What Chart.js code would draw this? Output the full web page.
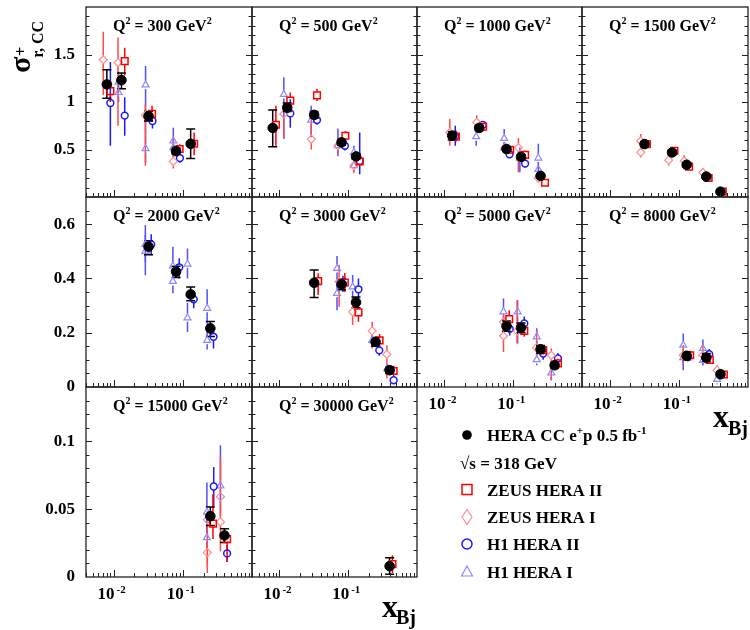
<!DOCTYPE html>
<html><head><meta charset="utf-8">
<script src="https://cdn.jsdelivr.net/npm/chart.js@4.4.1/dist/chart.umd.min.js"></script>
<style>
html,body{margin:0;padding:0;background:#fff;}
#wrap{position:relative;width:750px;height:630px;overflow:hidden;background:#fff;}
#wrap canvas{position:absolute;}
</style></head>
<body><div id="wrap"></div>
<script>
// ---------------- DATA ----------------
// each point: [x, y, yLow, yHigh]
const Q2_VALUES = ['300','500','1000','1500','2000','3000','5000','8000','15000','30000'];
const Y_TICKS_ROW1 = [0.5, 1, 1.5];
const Y_TICKS_ROW2 = [0, 0.2, 0.4, 0.6];
const Y_TICKS_ROW3 = [0, 0.05, 0.1];
const Y_MAX_ROWS = [2, 0.7, 0.14];
const Y_MINOR_STEP_ROWS = [0.1, 0.05, 0.01];
const X_MIN = 0.004, X_MAX = 1;
const X_TICK_VALUES = [0.01, 0.1];
const X_TICK_EXPONENTS = ['-2', '-1'];

const HERA_300  = [[0.008,1.185,1.04,1.34],[0.013,1.23,1.14,1.305],[0.032,0.85,0.80,0.90],[0.08,0.483,0.45,0.515],[0.13,0.56,0.405,0.716]];
const ZEUS2_300 = [[0.0090,1.115,1.0,1.23],[0.0145,1.43,1.28,1.57],[0.036,0.875,0.79,0.96],[0.090,0.505,0.455,0.555],[0.146,0.56,0.44,0.68]];
const ZEUS1_300 = [[0.0071,1.445,1.07,1.74],[0.0116,1.415,0.75,1.68],[0.0288,0.86,0.33,0.98],[0.073,0.375,0.30,0.62]];
const H12_300   = [[0.0090,0.99,0.54,1.42],[0.0145,0.857,0.645,1.05],[0.0365,0.80,0.72,0.88],[0.091,0.41,0.36,0.46]];
const H11_300   = [[0.0118,1.10,1.0,1.2],[0.0118,1.21,1.1,1.32],[0.029,1.18,0.87,1.38],[0.029,0.51,0.36,0.85],[0.073,0.59,0.45,0.73],[0.073,0.52,0.42,0.62]];

const HERA_500  = [[0.008,0.727,0.53,0.917],[0.013,0.94,0.90,0.99],[0.032,0.864,0.83,0.90],[0.08,0.575,0.545,0.605],[0.13,0.427,0.40,0.455]];
const ZEUS2_500 = [[0.0089,0.76,0.54,0.96],[0.0144,1.015,0.94,1.10],[0.0352,1.07,1.01,1.14],[0.091,0.645,0.595,0.695],[0.147,0.374,0.324,0.424]];
const ZEUS1_500 = [[0.0116,0.875,0.62,0.99],[0.0291,0.61,0.50,0.84],[0.071,0.54,0.46,0.62],[0.121,0.33,0.25,0.41]];
const H12_500   = [[0.0144,0.88,0.73,1.03],[0.0352,0.81,0.76,0.86],[0.0895,0.54,0.49,0.59],[0.147,0.38,0.24,0.68]];
const H11_500   = [[0.0116,1.08,0.61,1.26],[0.029,0.81,0.63,0.96],[0.071,0.54,0.43,0.72],[0.121,0.47,0.40,0.54],[0.121,0.33,0.27,0.40]];

const HERA_1000  = [[0.013,0.645,0.60,0.69],[0.032,0.727,0.70,0.755],[0.08,0.505,0.48,0.53],[0.13,0.423,0.40,0.446],[0.25,0.222,0.20,0.244]];
const ZEUS2_1000 = [[0.0147,0.635,0.585,0.685],[0.0366,0.74,0.70,0.78],[0.0903,0.497,0.46,0.535],[0.149,0.444,0.40,0.49],[0.29,0.15,0.12,0.18]];
const ZEUS1_1000 = [[0.012,0.68,0.54,0.82],[0.0295,0.786,0.69,0.86],[0.076,0.52,0.47,0.57],[0.119,0.52,0.26,0.62],[0.232,0.198,0.15,0.25]];
const H12_1000   = [[0.0144,0.64,0.54,0.75],[0.0362,0.76,0.72,0.80],[0.0885,0.45,0.41,0.49],[0.149,0.352,0.31,0.40]];
const H11_1000   = [[0.029,0.635,0.54,0.75],[0.074,0.617,0.487,0.716],[0.074,0.52,0.46,0.58],[0.125,0.41,0.26,0.52],[0.232,0.41,0.24,0.56],[0.232,0.29,0.24,0.34]];

const HERA_1500  = [[0.032,0.557,0.53,0.585],[0.08,0.469,0.445,0.493],[0.13,0.339,0.315,0.363],[0.25,0.215,0.195,0.235],[0.4,0.056,0.045,0.067]];
const ZEUS2_1500 = [[0.0346,0.557,0.52,0.59],[0.0865,0.487,0.455,0.52],[0.141,0.32,0.29,0.35],[0.27,0.20,0.175,0.225],[0.432,0.056,0.045,0.067]];
const ZEUS1_1500 = [[0.0282,0.59,0.50,0.663],[0.0282,0.47,0.416,0.52],[0.0715,0.388,0.33,0.48],[0.12,0.38,0.30,0.44],[0.223,0.26,0.22,0.30]];

const HERA_2000 = [[0.032,0.517,0.487,0.539],[0.08,0.425,0.403,0.445],[0.13,0.341,0.318,0.368],[0.25,0.216,0.186,0.241]];
const H12_2000  = [[0.035,0.525,0.485,0.563],[0.0889,0.441,0.40,0.474],[0.144,0.323,0.29,0.355],[0.278,0.185,0.142,0.216]];
const H11_2000  = [[0.0288,0.525,0.46,0.597],[0.0288,0.50,0.412,0.56],[0.072,0.446,0.40,0.517],[0.072,0.389,0.345,0.43],[0.117,0.453,0.40,0.51],[0.117,0.255,0.203,0.31],[0.225,0.29,0.22,0.36],[0.225,0.172,0.138,0.21]];

const HERA_3000  = [[0.032,0.384,0.33,0.431],[0.08,0.378,0.358,0.398],[0.13,0.312,0.292,0.332],[0.25,0.166,0.15,0.182],[0.4,0.062,0.05,0.074]];
const ZEUS2_3000 = [[0.0366,0.39,0.339,0.419],[0.0893,0.385,0.35,0.42],[0.141,0.275,0.24,0.31],[0.286,0.172,0.15,0.195],[0.458,0.059,0.04,0.078]];
const ZEUS1_3000 = [[0.0738,0.388,0.296,0.45],[0.116,0.277,0.228,0.332],[0.223,0.207,0.142,0.24],[0.365,0.12,0.031,0.154]];
const H12_3000   = [[0.084,0.38,0.35,0.41],[0.141,0.36,0.32,0.40],[0.283,0.135,0.115,0.155],[0.458,0.025,0.01,0.04]];
const H11_3000   = [[0.0688,0.437,0.39,0.483],[0.0688,0.345,0.283,0.39],[0.116,0.369,0.32,0.413],[0.223,0.172,0.15,0.195],[0.37,0.068,0.05,0.085]];

const HERA_5000  = [[0.08,0.224,0.205,0.243],[0.13,0.218,0.20,0.236],[0.25,0.139,0.125,0.153],[0.4,0.08,0.07,0.09]];
const ZEUS2_5000 = [[0.0875,0.25,0.22,0.283],[0.145,0.207,0.185,0.23],[0.273,0.136,0.12,0.152],[0.447,0.087,0.07,0.104]];
const ZEUS1_5000 = [[0.0723,0.188,0.129,0.258],[0.0723,0.24,0.21,0.27],[0.114,0.206,0.16,0.32],[0.219,0.145,0.11,0.209],[0.358,0.117,0.025,0.142]];
const H12_5000   = [[0.089,0.214,0.19,0.24],[0.145,0.234,0.21,0.26],[0.273,0.123,0.10,0.145],[0.447,0.105,0.085,0.125]];
const H11_5000   = [[0.0723,0.277,0.21,0.326],[0.116,0.277,0.16,0.32],[0.22,0.185,0.15,0.216],[0.22,0.101,0.08,0.13],[0.358,0.052,0.025,0.074]];

const HERA_8000  = [[0.13,0.115,0.10,0.13],[0.25,0.108,0.093,0.123],[0.4,0.047,0.04,0.054]];
const ZEUS2_8000 = [[0.146,0.117,0.10,0.134],[0.281,0.10,0.085,0.115],[0.448,0.046,0.04,0.052]];
const ZEUS1_8000 = [[0.116,0.117,0.085,0.155],[0.223,0.117,0.09,0.16],[0.357,0.062,0.04,0.08]];
const H12_8000   = [[0.135,0.11,0.095,0.125],[0.275,0.121,0.10,0.14],[0.4,0.045,0.035,0.055]];
const H11_8000   = [[0.116,0.154,0.062,0.197],[0.116,0.108,0.09,0.125],[0.223,0.142,0.08,0.175],[0.223,0.098,0.08,0.115],[0.357,0.028,0.01,0.06]];

const HERA_15000  = [[0.25,0.0448,0.038,0.0515],[0.4,0.0306,0.0255,0.0355]];
const ZEUS2_15000 = [[0.273,0.0393,0.028,0.061],[0.437,0.0279,0.011,0.0336]];
const ZEUS1_15000 = [[0.226,0.0423,0.003,0.0485],[0.226,0.018,0.01,0.026],[0.35,0.0592,0.045,0.0883],[0.35,0.0406,0.0187,0.05]];
const H12_15000   = [[0.28,0.0667,0.0522,0.081],[0.437,0.0174,0.011,0.0236]];
const H11_15000   = [[0.223,0.0478,0.035,0.0697],[0.223,0.029,0.02,0.038],[0.35,0.0672,0.05,0.097]];

const HERA_30000  = [[0.4,0.008,0.002,0.0142]];
const ZEUS2_30000 = [[0.44,0.0095,0.003,0.016]];

const LEGEND_LABELS = ['HERA CC e', 'p 0.5 fb', '\u221As = 318 GeV', 'ZEUS HERA II', 'ZEUS HERA I', 'H1 HERA II', 'H1 HERA I'];

// ---------------- LAYOUT / STYLE ----------------
const FONT = '"Liberation Serif", "Times New Roman", serif';
const COL_L = [86, 252, 417, 582];
const COL_W = [166, 165, 165, 166];
const ROW_T = [7, 197, 387];
const ROW_H = 190;
const PADL = 70, PADR = 10, PADT = 30, PADB = 40;

const STYLES = {
  hera:  {pointStyle:'circle',  pointRadius:4.8, backgroundColor:'#000', borderColor:'#000', borderWidth:1, barColor:'#000', barGap:0, barCap:4.5},
  zeus2: {pointStyle:'rect',    pointRadius:4.7, backgroundColor:'rgba(0,0,0,0)', borderColor:'#ff0000', borderWidth:1.5, barColor:'#ff0000', barGap:3.4, barCap:0},
  zeus1: {pointStyle:'rectRot', pointRadius:4,   backgroundColor:'rgba(0,0,0,0)', borderColor:'#ff8a8a', borderWidth:1.2, barColor:'#ff4a4a', barGap:4, barCap:0},
  h12:   {pointStyle:'circle',  pointRadius:3.4, backgroundColor:'rgba(0,0,0,0)', borderColor:'#1a1aff', borderWidth:1.5, barColor:'#1a1aff', barGap:3.4, barCap:0},
  h11:   {pointStyle:'triangle',pointRadius:4,   backgroundColor:'rgba(0,0,0,0)', borderColor:'#8a8aff', borderWidth:1.2, barColor:'#5050ff', barGap:4, barCap:0}
};

const PANELS = [
  {q:Q2_VALUES[0], row:0, col:0, sets:{hera:HERA_300, zeus2:ZEUS2_300, zeus1:ZEUS1_300, h12:H12_300, h11:H11_300}},
  {q:Q2_VALUES[1], row:0, col:1, sets:{hera:HERA_500, zeus2:ZEUS2_500, zeus1:ZEUS1_500, h12:H12_500, h11:H11_500}},
  {q:Q2_VALUES[2], row:0, col:2, sets:{hera:HERA_1000, zeus2:ZEUS2_1000, zeus1:ZEUS1_1000, h12:H12_1000, h11:H11_1000}},
  {q:Q2_VALUES[3], row:0, col:3, sets:{hera:HERA_1500, zeus2:ZEUS2_1500, zeus1:ZEUS1_1500}},
  {q:Q2_VALUES[4], row:1, col:0, sets:{hera:HERA_2000, h12:H12_2000, h11:H11_2000}},
  {q:Q2_VALUES[5], row:1, col:1, sets:{hera:HERA_3000, zeus2:ZEUS2_3000, zeus1:ZEUS1_3000, h12:H12_3000, h11:H11_3000}},
  {q:Q2_VALUES[6], row:1, col:2, xlab:true, sets:{hera:HERA_5000, zeus2:ZEUS2_5000, zeus1:ZEUS1_5000, h12:H12_5000, h11:H11_5000}},
  {q:Q2_VALUES[7], row:1, col:3, xlab:true, sets:{hera:HERA_8000, zeus2:ZEUS2_8000, zeus1:ZEUS1_8000, h12:H12_8000, h11:H11_8000}},
  {q:Q2_VALUES[8], row:2, col:0, xlab:true, sets:{hera:HERA_15000, zeus2:ZEUS2_15000, zeus1:ZEUS1_15000, h12:H12_15000, h11:H11_15000}},
  {q:Q2_VALUES[9], row:2, col:1, xlab:true, sets:{hera:HERA_30000, zeus2:ZEUS2_30000}}
];
const Y_TICKS_BY_ROW = [Y_TICKS_ROW1, Y_TICKS_ROW2, Y_TICKS_ROW3];

function drawRich(ctx, x, y, parts) {
  for (const [t, size, dy] of parts) {
    ctx.font = 'bold ' + size + 'px ' + FONT;
    ctx.fillText(t, x, y + dy);
    x += ctx.measureText(t).width;
  }
  return x;
}

const errorBarPlugin = {
  id: 'errbars',
  beforeDatasetsDraw(chart) {
    const ctx = chart.ctx, ys = chart.scales.y;
    ctx.save();
    for (let i = chart.data.datasets.length - 1; i >= 0; i--) {
      const ds = chart.data.datasets[i];
      const meta = chart.getDatasetMeta(i);
      ctx.strokeStyle = ds.barColor;
      ctx.lineWidth = 1.5;
      meta.data.forEach((el, j) => {
        const d = ds.data[j];
        const px = el.x, pc = el.y;
        const pl = ys.getPixelForValue(d.lo), ph = ys.getPixelForValue(d.hi);
        const g = ds.barGap;
        ctx.beginPath();
        if (ph < pc - g) { ctx.moveTo(px, ph); ctx.lineTo(px, pc - g); }
        if (pl > pc + g) { ctx.moveTo(px, pc + g); ctx.lineTo(px, pl); }
        if (ds.barCap > 0) {
          ctx.moveTo(px - ds.barCap, ph); ctx.lineTo(px + ds.barCap, ph);
          ctx.moveTo(px - ds.barCap, pl); ctx.lineTo(px + ds.barCap, pl);
        }
        ctx.stroke();
      });
    }
    ctx.restore();
  }
};

function makeFramePlugin(p) {
  const yTicks = Y_TICKS_BY_ROW[p.row];
  const yMax = Y_MAX_ROWS[p.row];
  const step = Y_MINOR_STEP_ROWS[p.row];
  return {
    id: 'frame',
    afterDraw(chart) {
      const ctx = chart.ctx, a = chart.chartArea, xs = chart.scales.x, ys = chart.scales.y;
      ctx.save();
      ctx.strokeStyle = '#222';
      ctx.lineWidth = 1.3;
      ctx.strokeRect(a.left, a.top, a.right - a.left, a.bottom - a.top);
      ctx.lineWidth = 1;
      ctx.beginPath();
      for (let k = 1; k * step < yMax - 1e-9; k++) {
        const v = k * step;
        const major = yTicks.some(t => Math.abs(t - v) < 1e-9);
        const len = major ? 6 : 3.5;
        const py = Math.round(ys.getPixelForValue(v)) + 0.5;
        ctx.moveTo(a.left, py); ctx.lineTo(a.left + len, py);
        ctx.moveTo(a.right, py); ctx.lineTo(a.right - len, py);
      }
      for (let d = -3; d <= -1; d++) {
        for (let k = 1; k <= 9; k++) {
          const v = k * Math.pow(10, d);
          if (v < X_MIN * 0.999 || v > X_MAX * 1.001) continue;
          const px = Math.round(xs.getPixelForValue(v)) + 0.5;
          const len = k === 1 ? 7 : 4;
          ctx.moveTo(px, a.bottom); ctx.lineTo(px, a.bottom - len);
        }
      }
      ctx.stroke();
      ctx.fillStyle = '#000';
      ctx.textAlign = 'left';
      ctx.textBaseline = 'alphabetic';
      drawRich(ctx, a.left + 27, a.top + 24, [['Q',16,0],['2',10,-7],[' = ' + p.q + ' GeV',16,0],['2',10,-7]]);
      if (p.xlab) {
        X_TICK_VALUES.forEach((v, i) => {
          const px = xs.getPixelForValue(v);
          ctx.textAlign = 'right';
          ctx.font = 'bold 17px ' + FONT;
          ctx.fillText('10', px + 1, a.bottom + 22);
          ctx.textAlign = 'left';
          ctx.font = 'bold 11px ' + FONT;
          ctx.fillText(X_TICK_EXPONENTS[i], px + 3, a.bottom + 16);
        });
      }
      ctx.restore();
    }
  };
}

const wrap = document.getElementById('wrap');

function makePanel(p) {
  const L = COL_L[p.col], W = COL_W[p.col], T = ROW_T[p.row], H = ROW_H;
  const cv = document.createElement('canvas');
  cv.width = W + PADL + PADR; cv.height = H + PADT + PADB;
  cv.style.left = (L - PADL) + 'px'; cv.style.top = (T - PADT) + 'px';
  cv.style.width = cv.width + 'px'; cv.style.height = cv.height + 'px';
  wrap.appendChild(cv);
  const order = ['hera','zeus2','zeus1','h12','h11'];
  const datasets = [];
  order.forEach(key => {
    const arr = p.sets[key];
    if (!arr) return;
    const st = STYLES[key];
    datasets.push(Object.assign({
      label: key,
      data: arr.map(([x, y, lo, hi]) => ({x, y, lo, hi})),
      pointHoverRadius: st.pointRadius,
      showLine: false
    }, st));
  });
  const yTicks = Y_TICKS_BY_ROW[p.row];
  new Chart(cv, {
    type: 'scatter',
    data: { datasets },
    options: {
      responsive: false, animation: false, devicePixelRatio: 1,
      layout: { padding: { top: PADT, right: PADR, left: 0, bottom: 0 } },
      plugins: { legend: { display: false }, tooltip: { enabled: false } },
      scales: {
        x: {
          type: 'logarithmic', min: X_MIN, max: X_MAX,
          grid: { display: false, drawTicks: false }, border: { display: false },
          ticks: { display: false },
          afterFit(s) { s.height = PADB; }
        },
        y: {
          type: 'linear', min: 0, max: Y_MAX_ROWS[p.row],
          grid: { display: false, drawTicks: false }, border: { display: false },
          ticks: {
            display: p.col === 0, padding: 11, color: '#000',
            font: { family: FONT, weight: 'bold', size: 17 },
            callback: v => String(v)
          },
          afterBuildTicks(s) { s.ticks = yTicks.map(v => ({ value: v })); },
          afterFit(s) { s.width = PADL; }
        }
      }
    },
    plugins: [errorBarPlugin, makeFramePlugin(p)]
  });
}

PANELS.forEach(makePanel);

// ---------------- overlay: axis titles + legend ----------------
const overlayPlugin = {
  id: 'overlay',
  afterDraw(chart) {
    const ctx = chart.ctx;
    ctx.save();
    ctx.fillStyle = '#000';
    ctx.textAlign = 'left';
    ctx.textBaseline = 'alphabetic';
    ctx.save();
    ctx.translate(29.5, 73);
    ctx.rotate(-Math.PI / 2);
    ctx.font = 'bold 30px ' + FONT;
    ctx.fillText('\u03C3', 0, 0);
    const w = ctx.measureText('\u03C3').width;
    ctx.font = 'bold 17px ' + FONT;
    ctx.fillText('+', w + 0.5, -4);
    ctx.font = 'bold 16px ' + FONT;
    ctx.fillText('r, CC', w - 1, 13);
    ctx.restore();
    drawRich(ctx, 713, 427, [['x', 32, 0]]);
    drawRich(ctx, 728, 435, [['Bj', 20, 0]]);
    drawRich(ctx, 382, 617, [['x', 32, 0]]);
    drawRich(ctx, 396, 624, [['Bj', 20, 0]]);
    const mx = 467, tx = 487;
    const rows = [435, 463, 489.5, 517, 544, 571.5];
    ctx.fillStyle = '#000';
    ctx.beginPath(); ctx.arc(mx, rows[0], 4.8, 0, Math.PI * 2); ctx.fill();
    drawRich(ctx, tx, rows[0] + 6, [[LEGEND_LABELS[0],17,0],['+',11,-7],[LEGEND_LABELS[1],17,0],['-1',11,-7]]);
    drawRich(ctx, 460, rows[1] + 6, [[LEGEND_LABELS[2],17,0]]);
    ctx.lineWidth = 1.5;
    ctx.strokeStyle = '#ff0000';
    ctx.strokeRect(mx - 5, rows[2] - 5, 10, 10);
    drawRich(ctx, tx, rows[2] + 6, [[LEGEND_LABELS[3],17,0]]);
    ctx.strokeStyle = '#ff8a8a'; ctx.lineWidth = 1.2;
    ctx.beginPath();
    ctx.moveTo(mx, rows[3] - 7.5); ctx.lineTo(mx + 5, rows[3]); ctx.lineTo(mx, rows[3] + 7.5); ctx.lineTo(mx - 5, rows[3]); ctx.closePath();
    ctx.stroke();
    drawRich(ctx, tx, rows[3] + 6, [[LEGEND_LABELS[4],17,0]]);
    ctx.strokeStyle = '#1a1aff'; ctx.lineWidth = 1.5;
    ctx.beginPath(); ctx.arc(mx, rows[4], 5, 0, Math.PI * 2); ctx.stroke();
    drawRich(ctx, tx, rows[4] + 6, [[LEGEND_LABELS[5],17,0]]);
    ctx.strokeStyle = '#8a8aff'; ctx.lineWidth = 1.2;
    ctx.beginPath();
    ctx.moveTo(mx, rows[5] - 5.5); ctx.lineTo(mx + 5.5, rows[5] + 4.5); ctx.lineTo(mx - 5.5, rows[5] + 4.5); ctx.closePath();
    ctx.stroke();
    drawRich(ctx, tx, rows[5] + 6, [[LEGEND_LABELS[6],17,0]]);
    ctx.restore();
  }
};

const ov = document.createElement('canvas');
ov.width = 750; ov.height = 630;
ov.style.left = '0px'; ov.style.top = '0px'; ov.style.width = '750px'; ov.style.height = '630px';
ov.style.pointerEvents = 'none';
wrap.appendChild(ov);
new Chart(ov, {
  type: 'scatter',
  data: { datasets: [] },
  options: {
    responsive: false, animation: false, devicePixelRatio: 1,
    plugins: { legend: { display: false }, tooltip: { enabled: false } },
    scales: { x: { display: false }, y: { display: false } }
  },
  plugins: [overlayPlugin]
});
</script>
</body></html>
